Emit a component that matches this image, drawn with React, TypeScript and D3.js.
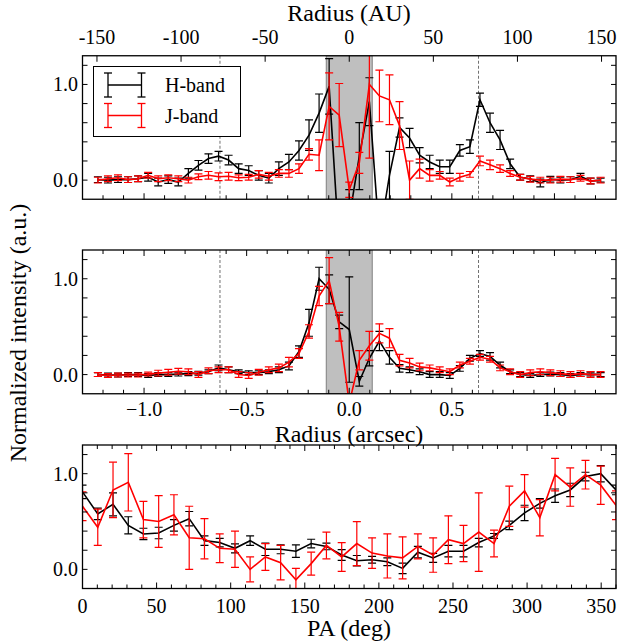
import React from "react";
import * as d3 from "d3";

// ---------- data ----------
const radiusArcsec = [
  -1.225, -1.176, -1.127, -1.078, -1.029, -0.98, -0.931, -0.882, -0.833, -0.784,
  -0.735, -0.686, -0.637, -0.588, -0.539, -0.49, -0.441, -0.392, -0.343, -0.294,
  -0.245, -0.196, -0.147, -0.098, -0.049, 0, 0.049, 0.098, 0.147, 0.196,
  0.245, 0.294, 0.343, 0.392, 0.441, 0.49, 0.539, 0.588, 0.637, 0.686,
  0.735, 0.784, 0.833, 0.882, 0.931, 0.98, 1.029, 1.078, 1.127, 1.176, 1.225,
];

// Panel 1 (major axis)
const p1H = [
  0.005, 0.0, 0.005, 0.005, 0.015, 0.03, -0.02, 0.005, -0.02, 0.07,
  0.155, 0.225, 0.25, 0.21, 0.12, 0.1, 0.05, 0.02, 0.12, 0.19,
  0.31, 0.47, 0.7, 0.98, -0.7, -0.4, 0.25, 0.82, -0.6, 0.05,
  0.55, 0.44, 0.26, 0.19, 0.14, 0.14, 0.31, 0.35, 0.84, 0.6,
  0.42, 0.17, 0.03, 0.015, -0.03, 0.01, 0.0, 0.005, 0.04, -0.01, 0.0,
];
const p1HErr = [
  0.03, 0.03, 0.03, 0.03, 0.03, 0.04, 0.04, 0.04, 0.04, 0.05,
  0.05, 0.05, 0.05, 0.05, 0.05, 0.05, 0.05, 0.05, 0.07, 0.08,
  0.1, 0.16, 0.2, 0.29, 0.3, 0.3, 0.35, 0.25, 0.3, 0.25,
  0.1, 0.1, 0.08, 0.07, 0.07, 0.07, 0.06, 0.07, 0.07, 0.1,
  0.1, 0.05, 0.03, 0.03, 0.04, 0.03, 0.03, 0.03, 0.03, 0.03, 0.02,
];
const p1J = [
  0.0, 0.015, 0.025, 0.005, 0.015, 0.05, 0.015, 0.025, 0.015, 0.0,
  0.035, 0.05, 0.035, 0.04, 0.025, 0.03, 0.06, 0.04, 0.07, 0.07,
  0.12, 0.27, 0.26, 0.77, 0.68, -0.1, 0.18, 1.0, 0.88, 0.84,
  0.57, 0.0, 0.12, 0.05, 0.05, -0.02, 0.03, 0.06, 0.2, 0.16,
  0.12, 0.07, 0.03, 0.01, 0.0, 0.0, 0.01, 0.005, 0.02, -0.01, 0.0,
];
const p1JErr = [
  0.03, 0.03, 0.03, 0.03, 0.03, 0.03, 0.03, 0.03, 0.03, 0.03,
  0.03, 0.04, 0.04, 0.04, 0.03, 0.03, 0.04, 0.04, 0.04, 0.04,
  0.05, 0.06, 0.16, 0.35, 0.33, 0.08, 0.11, 0.77, 0.27, 0.26,
  0.25, 0.2, 0.1, 0.06, 0.04, 0.04, 0.04, 0.03, 0.05, 0.05,
  0.04, 0.03, 0.03, 0.03, 0.03, 0.03, 0.03, 0.03, 0.03, 0.03, 0.03,
];

// Panel 2 (minor axis)
const p2H = [
  0.0, -0.005, -0.005, 0.0, 0.0, -0.01, 0.0, 0.0, 0.005, 0.01,
  0.015, 0.03, 0.07, 0.05, 0.03, 0.02, 0.02, 0.03, 0.05, 0.09,
  0.24, 0.54, 1.0, 0.89, 0.55, 0.47, -0.07, 0.17, 0.35, 0.18,
  0.065, 0.05, 0.03, 0.0, 0.0, -0.01, 0.065, 0.17, 0.22, 0.19,
  0.1, 0.03, 0.0, -0.01, 0.0, 0.005, 0.0, -0.01, 0.0, 0.005, 0.0,
];
const p2HErr = [
  0.02, 0.02, 0.02, 0.02, 0.02, 0.02, 0.02, 0.02, 0.02, 0.02,
  0.02, 0.02, 0.03, 0.03, 0.02, 0.02, 0.02, 0.02, 0.03, 0.04,
  0.06, 0.14, 0.12, 0.15, 0.07, 0.55, 0.05, 0.08, 0.1, 0.07,
  0.04, 0.03, 0.03, 0.03, 0.03, 0.03, 0.03, 0.03, 0.03, 0.04,
  0.03, 0.02, 0.02, 0.02, 0.02, 0.02, 0.02, 0.02, 0.02, 0.02, 0.02,
];
const p2J = [
  0.0, -0.01, -0.005, -0.005, -0.005, 0.005, 0.015, 0.025, 0.035, 0.03,
  0.0, 0.04, 0.05, 0.05, 0.0, -0.01, 0.025, 0.05, 0.07, 0.13,
  0.22, 0.45, 0.82, 0.98, 0.5, -0.3, 0.15, 0.3, 0.43, 0.38,
  0.15, 0.12, 0.08, 0.07, 0.05, 0.03, 0.1, 0.14, 0.18, 0.16,
  0.07, 0.03, 0.0, 0.02, 0.03, 0.02, 0.01, 0.0, 0.01, 0.0, 0.0,
];
const p2JErr = [
  0.02, 0.02, 0.02, 0.02, 0.02, 0.02, 0.03, 0.03, 0.03, 0.03,
  0.03, 0.03, 0.03, 0.03, 0.03, 0.03, 0.03, 0.03, 0.04, 0.05,
  0.05, 0.07, 0.1, 0.24, 0.15, 0.1, 0.1, 0.15, 0.1, 0.1,
  0.06, 0.05, 0.04, 0.03, 0.03, 0.03, 0.03, 0.03, 0.03, 0.03,
  0.03, 0.03, 0.03, 0.03, 0.03, 0.03, 0.03, 0.03, 0.03, 0.03, 0.03,
];

// Panel 3 (azimuthal profile)
const paDeg = [
  0, 10.3, 20.6, 30.9, 41.1, 51.4, 61.7, 72, 82.3, 92.6, 102.9, 113.1,
  123.4, 133.7, 144, 154.3, 164.6, 174.9, 185.1, 195.4, 205.7, 216, 226.3, 236.6,
  246.9, 257.1, 267.4, 277.7, 288, 298.3, 308.6, 318.9, 329.1, 339.4, 349.7, 360,
];
const p3H = [
  0.81, 0.58, 0.68, 0.46, 0.37, 0.38, 0.46, 0.53, 0.3, 0.28, 0.22, 0.3,
  0.21, 0.21, 0.19, 0.27, 0.24, 0.15, 0.09, 0.1, 0.08, 0.01, 0.18, 0.12,
  0.19, 0.19, 0.28, 0.35, 0.46, 0.59, 0.69, 0.77, 0.83, 0.97, 1.0, 0.83,
];
const p3HErr = [
  0.07, 0.06, 0.12, 0.09, 0.06, 0.06, 0.06, 0.075, 0.05, 0.045, 0.047, 0.05,
  0.065, 0.047, 0.065, 0.045, 0.035, 0.057, 0.055, 0.035, 0.04, 0.055, 0.06, 0.047,
  0.06, 0.06, 0.045, 0.025, 0.045, 0.08, 0.05, 0.07, 0.07, 0.045, 0.085, 0.05,
];
const p3J = [
  0.66, 0.44, 0.83, 0.91, 0.52, 0.5, 0.57, 0.33, 0.32, 0.22, 0.21, 0.0,
  0.13, 0.07, -0.11, 0.06, 0.25, 0.13, 0.27, 0.17, 0.14, 0.12, 0.24, 0.15,
  0.31, 0.27, 0.39, 0.27, 0.66, 0.82, 0.54, 0.99, 0.86, 0.99, 0.88, 0.67,
];
const p3JErr = [
  0.15, 0.19, 0.29, 0.3, 0.19, 0.27, 0.21, 0.33, 0.21, 0.15, 0.19, 0.13,
  0.14, 0.18, 0.12, 0.12, 0.14, 0.15, 0.23, 0.16, 0.23, 0.22, 0.13, 0.18,
  0.25, 0.19, 0.41, 0.14, 0.21, 0.17, 0.19, 0.17, 0.2, 0.15, 0.2, 0.15,
];

const auTicks = [-150, -100, -50, 0, 50, 100, 150];
const arcsecLabelTicks = [-1.0, -0.5, 0.0, 0.5, 1.0];
const paLabelTicks = [0, 50, 100, 150, 200, 250, 300, 350];
const yLabelTicks = [0.0, 1.0];
const yMinorTicks = [0.0, 0.2, 0.4, 0.6, 0.8, 1.0, 1.2];
const ringRadius = 0.63; // arcsec, dashed lines
const maskRadius = 0.112; // arcsec, grey region
const distancePc = 122;

// ---------- layout ----------
const W = 617;
const H = 643;
const xL = 82.5;
const xR = 616;
const panels = [
  { top: 55.75, bottom: 199.25 },
  { top: 250, bottom: 393.75 },
  { top: 445, bottom: 588.5 },
];
const FONT = "Liberation Serif, DejaVu Serif, Times New Roman, serif";
const BLACK = "#000000";
const RED = "#ff0000";

const xArc = d3.scaleLinear().domain([-1.3, 1.3]).range([xL, xR]);
const xAU = d3.scaleLinear().domain([-1.3 * distancePc, 1.3 * distancePc]).range([xL, xR]);
const xPA = d3.scaleLinear().domain([0, 360]).range([xL, xR]);
const yScales = panels.map((p) => d3.scaleLinear().domain([-0.2, 1.3]).range([p.bottom, p.top]));

type Series = { xs: number[]; ys: number[]; es: number[]; color: string };

function Txt(props: any) {
  const { size, children, ...rest } = props;
  return (
    <text {...rest} style={{ fontFamily: FONT, fontSize: `${size}px` }}>
      {children}
    </text>
  );
}

function Profile({ s, x, y }: { s: Series; x: d3.ScaleLinear<number, number>; y: d3.ScaleLinear<number, number> }) {
  const line = d3
    .line<number>()
    .x((_, i) => x(s.xs[i]))
    .y((v) => y(v));
  return (
    <g>
      {s.ys.map((v, i) => {
        const cx = x(s.xs[i]);
        const y1 = y(v - s.es[i]);
        const y2 = y(v + s.es[i]);
        return (
          <g key={i} stroke={s.color} strokeWidth={1.2}>
            <line x1={cx} x2={cx} y1={y1} y2={y2} />
            <line x1={cx - 4} x2={cx + 4} y1={y1} y2={y1} />
            <line x1={cx - 4} x2={cx + 4} y1={y2} y2={y2} />
          </g>
        );
      })}
      <path d={line(s.ys) || ""} fill="none" stroke={s.color} strokeWidth={1.6} strokeLinejoin="miter" />
    </g>
  );
}

function YTicks({ pi }: { pi: number }) {
  const y = yScales[pi];
  return (
    <g>
      {yMinorTicks.map((t) => (
        <g key={t} stroke={BLACK} strokeWidth={1}>
          <line x1={xL} x2={xL + 5} y1={y(t)} y2={y(t)} />
          <line x1={xR} x2={xR - 5} y1={y(t)} y2={y(t)} />
        </g>
      ))}
      {yLabelTicks.map((t) => (
        <Txt key={t} x={78} y={y(t)} dy="0.35em" textAnchor="end" size={20}>
          {t.toFixed(1)}
        </Txt>
      ))}
    </g>
  );
}

function ArcsecEdgeTicks({ yEdge, dir }: { yEdge: number; dir: number }) {
  const ticks = d3.range(-12, 13).map((k) => k / 10);
  return (
    <g stroke={BLACK} strokeWidth={1}>
      {ticks.map((t) => {
        const major = Math.abs(Math.round(t * 10)) % 5 === 0;
        const len = major ? 6 : 4;
        return <line key={t} x1={xArc(t)} x2={xArc(t)} y1={yEdge} y2={yEdge + dir * len} />;
      })}
    </g>
  );
}

export default function App() {
  const p1 = panels[0];
  const p2 = panels[1];
  const p3 = panels[2];
  const paMinor = d3.range(0, 361, 10);
  const fmtArc = (t: number) => (t < 0 ? "\u2212" : "") + Math.abs(t).toFixed(1);

  const series1: Series[] = [
    { xs: radiusArcsec, ys: p1H, es: p1HErr, color: BLACK },
    { xs: radiusArcsec, ys: p1J, es: p1JErr, color: RED },
  ];
  const series2: Series[] = [
    { xs: radiusArcsec, ys: p2H, es: p2HErr, color: BLACK },
    { xs: radiusArcsec, ys: p2J, es: p2JErr, color: RED },
  ];
  const series3: Series[] = [
    { xs: paDeg, ys: p3H, es: p3HErr, color: BLACK },
    { xs: paDeg, ys: p3J, es: p3JErr, color: RED },
  ];

  const legendItems = [
    { label: "H-band", color: BLACK, y: 85 },
    { label: "J-band", color: RED, y: 115.5 },
  ];

  return (
    <svg
      width={W}
      height={H}
      viewBox={`0 0 ${W} ${H}`}
      style={{ position: "absolute", left: 0, top: 0, background: "#ffffff" }}
    >
      <defs>
        {panels.map((p, i) => (
          <clipPath id={`clip${i}`} key={i}>
            <rect x={xL} y={p.top} width={xR - xL} height={p.bottom - p.top} />
          </clipPath>
        ))}
      </defs>
      <rect x={0} y={0} width={W} height={H} fill="#ffffff" />

      {/* ---------- panel 1 ---------- */}
      <g clipPath="url(#clip0)">
        <rect
          x={xArc(-maskRadius)}
          y={p1.top}
          width={xArc(maskRadius) - xArc(-maskRadius)}
          height={p1.bottom - p1.top}
          fill="#bfbfbf"
          stroke="#808080"
          strokeWidth={1}
        />
        {[-ringRadius, ringRadius].map((r) => (
          <line key={r} x1={xArc(r)} x2={xArc(r)} y1={p1.top} y2={p1.bottom} stroke="#707070" strokeWidth={1} strokeDasharray="3,2" />
        ))}
        {series1.map((s, i) => (
          <Profile key={i} s={s} x={xArc} y={yScales[0]} />
        ))}
      </g>
      <ArcsecEdgeTicks yEdge={p1.bottom} dir={-1} />
      <g stroke={BLACK} strokeWidth={1}>
        {auTicks.map((t) => (
          <line key={t} x1={xAU(t)} x2={xAU(t)} y1={p1.top} y2={p1.top + 6} />
        ))}
      </g>
      {auTicks.map((t) => (
        <Txt key={t} x={xAU(t)} y={44} textAnchor="middle" size={20}>
          {String(t)}
        </Txt>
      ))}
      <Txt x={349} y={21} textAnchor="middle" size={24}>
        Radius (AU)
      </Txt>
      <YTicks pi={0} />
      <rect x={xL} y={p1.top} width={xR - xL} height={p1.bottom - p1.top} fill="none" stroke={BLACK} strokeWidth={1.3} />

      {/* legend */}
      <rect x={93.5} y={66.5} width={147} height={70} fill="#ffffff" stroke={BLACK} strokeWidth={1} />
      {legendItems.map((it) => (
        <g key={it.label}>
          <g stroke={it.color} strokeWidth={1.3}>
            <line x1={108} x2={141.5} y1={it.y} y2={it.y} strokeWidth={1.6} />
            {[108, 141.5].map((lx) => (
              <g key={lx}>
                <line x1={lx} x2={lx} y1={it.y - 12} y2={it.y + 12} />
                <line x1={lx - 4} x2={lx + 4} y1={it.y - 12} y2={it.y - 12} />
                <line x1={lx - 4} x2={lx + 4} y1={it.y + 12} y2={it.y + 12} />
              </g>
            ))}
          </g>
          <Txt x={165} y={it.y + 7} size={20}>
            {it.label}
          </Txt>
        </g>
      ))}

      {/* ---------- panel 2 ---------- */}
      <g clipPath="url(#clip1)">
        <rect
          x={xArc(-maskRadius)}
          y={p2.top}
          width={xArc(maskRadius) - xArc(-maskRadius)}
          height={p2.bottom - p2.top}
          fill="#bfbfbf"
          stroke="#808080"
          strokeWidth={1}
        />
        {[-ringRadius, ringRadius].map((r) => (
          <line key={r} x1={xArc(r)} x2={xArc(r)} y1={p2.top} y2={p2.bottom} stroke="#707070" strokeWidth={1} strokeDasharray="3,2" />
        ))}
        {series2.map((s, i) => (
          <Profile key={i} s={s} x={xArc} y={yScales[1]} />
        ))}
      </g>
      <ArcsecEdgeTicks yEdge={p2.bottom} dir={-1} />
      <ArcsecEdgeTicks yEdge={p2.top} dir={1} />
      {arcsecLabelTicks.map((t) => (
        <Txt key={t} x={xArc(t)} y={416} textAnchor="middle" size={20}>
          {fmtArc(t)}
        </Txt>
      ))}
      <Txt x={349} y={442} textAnchor="middle" size={24}>
        Radius (arcsec)
      </Txt>
      <YTicks pi={1} />
      <rect x={xL} y={p2.top} width={xR - xL} height={p2.bottom - p2.top} fill="none" stroke={BLACK} strokeWidth={1.3} />

      {/* ---------- panel 3 ---------- */}
      <g clipPath="url(#clip2)">
        {series3.map((s, i) => (
          <Profile key={i} s={s} x={xPA} y={yScales[2]} />
        ))}
      </g>
      <g stroke={BLACK} strokeWidth={1}>
        {paMinor.map((t) => {
          const len = t % 50 === 0 ? 6 : 4;
          return (
            <g key={t}>
              <line x1={xPA(t)} x2={xPA(t)} y1={p3.bottom} y2={p3.bottom - len} />
              <line x1={xPA(t)} x2={xPA(t)} y1={p3.top} y2={p3.top + len} />
            </g>
          );
        })}
      </g>
      {paLabelTicks.map((t) => (
        <Txt key={t} x={xPA(t)} y={613} textAnchor="middle" size={20}>
          {String(t)}
        </Txt>
      ))}
      <Txt x={349} y={636} textAnchor="middle" size={24}>
        PA (deg)
      </Txt>
      <YTicks pi={2} />
      <rect x={xL} y={p3.top} width={xR - xL} height={p3.bottom - p3.top} fill="none" stroke={BLACK} strokeWidth={1.3} />

      {/* shared y label */}
      <Txt transform="translate(26,333) rotate(-90)" textAnchor="middle" size={24}>
        Normalized intensity (a.u.)
      </Txt>
    </svg>
  );
}
